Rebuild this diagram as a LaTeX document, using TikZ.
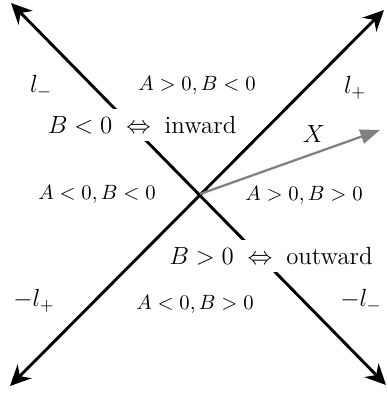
\documentclass[tikz,border=0pt]{standalone}
\usetikzlibrary{arrows.meta}
\begin{document}
\begin{tikzpicture}[x=0.017cm, y=-0.017cm,
        axis/.style={line width=1.4pt, {Stealth[length=10pt,width=9.5pt]}-{Stealth[length=10pt,width=9.5pt]}},
        vec/.style={line width=1.1pt, gray, -{Triangle[length=9.5pt,width=7pt]}},
        lab/.style={font=\large},
        region/.style={font=\normalsize},
        cond/.style={fill=white, font=\large, inner sep=3.3pt}]
    \useasboundingbox (0,0) rectangle (387,393);

    % ends of the two lines
    \coordinate (lm) at (11,3);
    \coordinate (mlm) at (386,385);
    \coordinate (lp) at (384,10);
    \coordinate (mlp) at (10,386);
    \coordinate (O) at (200,194);
    \coordinate (Xend) at (380,130);

    \draw[axis] (mlp) -- (lp);
    \draw[axis] (mlm) -- (lm);
    \draw[vec] (O) -- (Xend);

    % line names
    \node[lab] (nlm) at (41,87) {$l_-$};
    \node[lab] (nlp) at (355,88) {$l_+$};
    \node[lab] (nmlp) at (34,301) {$-l_+$};
    \node[lab] (nmlm) at (361,301) {$-l_-$};
    \node[lab] (nX) at (314,134) {$X$};

    % sign regions
    \node[region] (ru) at (197,85) {$A>0, B<0$};
    \node[region] (rl) at (97,194) {$A<0, B<0$};
    \node[region] (rr) at (304,195) {$A>0, B>0$};
    \node[region] (rd) at (195,304) {$A<0, B>0$};

    % inward / outward
    \node[cond] (inw) at (142,125) {$B<0 \;\Leftrightarrow\; \mbox{inward}$};
    \node[cond] (outw) at (271,256) {$B>0 \;\Leftrightarrow\; \mbox{outward}$};
\end{tikzpicture}
\end{document}
